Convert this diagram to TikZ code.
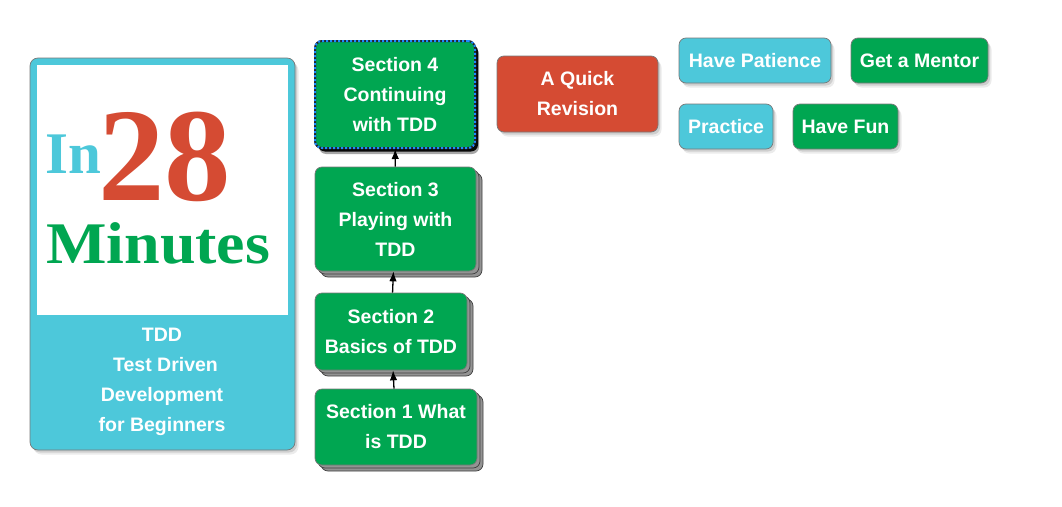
\documentclass[tikz,border=0pt]{standalone}
\usepackage{fontspec}
\setmainfont{Liberation Sans}
\newfontfamily\logofont{Liberation Serif}
\usetikzlibrary{shadows,arrows.meta}
\definecolor{tcyan}{RGB}{77,200,218}
\definecolor{tred}{RGB}{213,75,51}
\definecolor{tgreen}{RGB}{0,166,81}
\definecolor{tblue}{RGB}{30,140,255}
\definecolor{tborder}{RGB}{120,120,120}
\tikzset{
  box/.style={rounded corners=7pt, draw=tborder, line width=0.7pt, text=white,
    font=\bfseries\fontsize{19.5}{30}\selectfont, align=center, inner sep=0pt},
  soft/.style={general shadow={shadow xshift=3.5pt, shadow yshift=-4.5pt, fill=black, opacity=0.08},
               general shadow={shadow xshift=2pt, shadow yshift=-2.5pt, fill=black, opacity=0.12}},
  stack/.style={general shadow={shadow xshift=6pt, shadow yshift=-6pt, fill=gray!85, draw=black!75, line width=0.7pt},
                general shadow={shadow xshift=3pt, shadow yshift=-3pt, fill=gray!85, draw=black!75, line width=0.7pt}},
  hard/.style={general shadow={shadow xshift=4pt, shadow yshift=-6pt, fill=black, opacity=0.35},
               general shadow={shadow xshift=3pt, shadow yshift=-3.5pt, fill=black, opacity=0.95}},
  arr/.style={-{Latex[length=10pt,width=7.5pt]}, line width=1.3pt, black},
  logo/.style={anchor=base west, inner sep=0pt, text depth=0pt},
}
\begin{document}
\begin{tikzpicture}[x=1pt,y=-1pt]
\useasboundingbox (0,0) rectangle (1062,506);
% card
\node[box, soft, fill=tcyan, rounded corners=8pt, minimum width=265pt, minimum height=392pt] (card) at (162.5,254) {};
\node[fill=white, inner sep=0pt, minimum width=251pt, minimum height=250pt] (logobg) at (162.5,190) {};
\node[logo, text=tcyan, font=\logofont\bfseries\fontsize{59}{59}\selectfont] (in) at (45,173) {In};
\node[logo, text=tred, font=\logofont\bfseries\fontsize{133}{133}\selectfont] (num) at (98,200) {28};
\node[logo, text=tgreen, font=\logofont\bfseries\fontsize{59}{59}\selectfont] (minutes) at (46,263) {\scalebox{1.085}[1]{Minutes}};
\node[text=white, align=center, inner sep=0pt, font=\bfseries\fontsize{19.5}{30}\selectfont] (cardtxt) at (162,382) {TDD\\ \hspace*{7pt}Test Driven\\ Development\\ for Beginners};
% sections
\node[box, hard, fill=tgreen, draw=black!85, line width=2pt, minimum width=160pt, minimum height=107pt,
  postaction={draw=tblue, line width=2pt, dash pattern=on 2pt off 2pt}] (s4) at (395,94.5) {Section 4\\ Continuing\\ with TDD};
\node[box, stack, fill=tgreen, minimum width=161pt, minimum height=104pt] (s3) at (395.5,219) {Section 3\\ Playing with\\ TDD};
\node[box, stack, fill=tgreen, minimum width=152pt, minimum height=77pt] (s2) at (391,331.5) {Section 2\\ Basics of TDD};
\node[box, stack, fill=tgreen, minimum width=162pt, minimum height=76pt] (s1) at (396,427) {Section 1 What\\ is TDD};
\draw[arr] (s1) -- (s2);
\draw[arr] (s2) -- (s3);
\draw[arr] (s3) -- (s4);
% right side
\node[box, soft, fill=tred, minimum width=161pt, minimum height=76pt] (rev) at (577.5,94) {A Quick\\ Revision};
\node[box, soft, fill=tcyan, minimum width=152pt, minimum height=45pt] (pat) at (755,60.5) {Have Patience};
\node[box, soft, fill=tgreen, minimum width=137pt, minimum height=45pt] (men) at (919.5,60.5) {Get a Mentor};
\node[box, soft, fill=tcyan, minimum width=94pt, minimum height=45pt] (pra) at (726,126.5) {Practice};
\node[box, soft, fill=tgreen, minimum width=105pt, minimum height=45pt] (fun) at (845.5,126.5) {Have Fun};
\end{tikzpicture}
\end{document}
